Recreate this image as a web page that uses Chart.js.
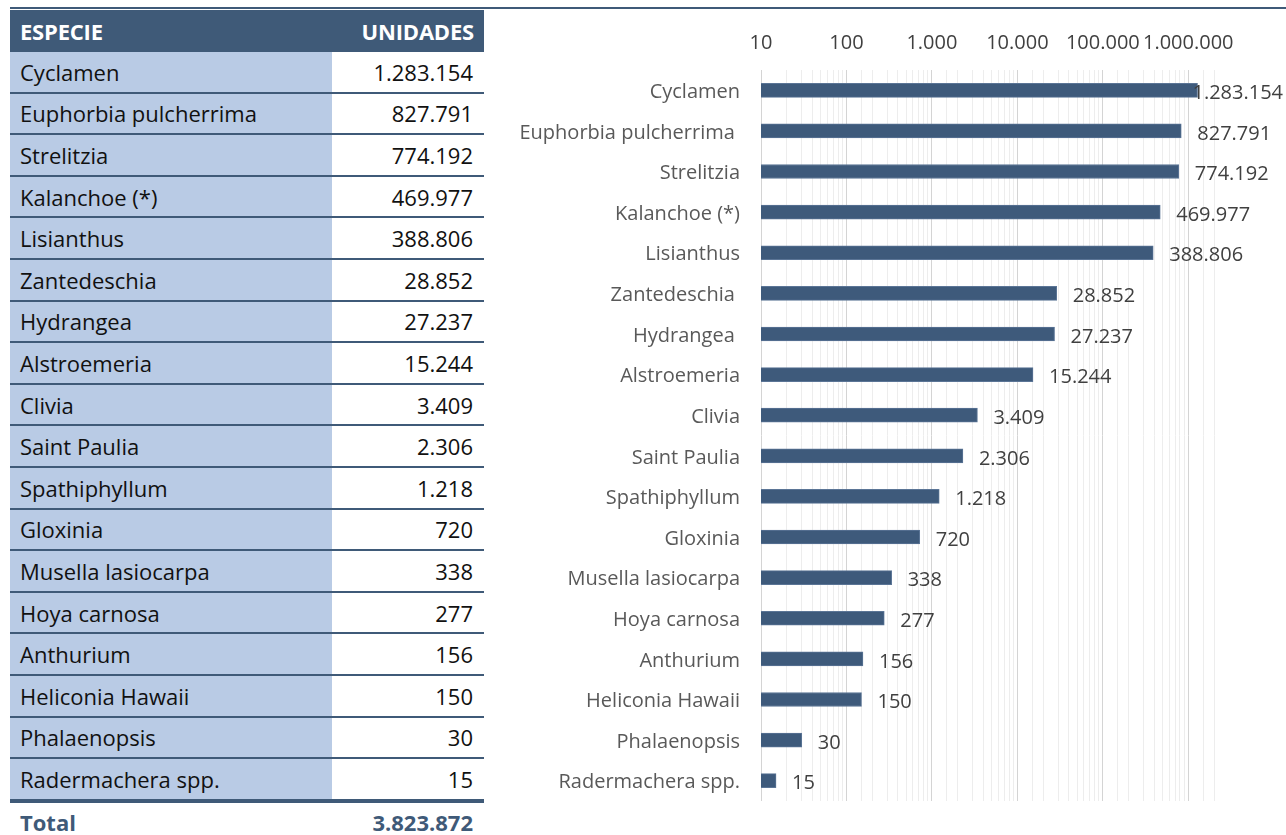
<!DOCTYPE html>
<html>
<head>
<meta charset="utf-8">
<script src="https://cdn.jsdelivr.net/npm/chart.js@4.4.1/dist/chart.umd.min.js"></script>
<style>
  body { margin: 0; background: #fff; font-family: "Open Sans", sans-serif; }
  #topline { position: absolute; left: 10px; top: 7px; width: 1276px; height: 2px; background: #3f5a78; }
  #tbl { position: absolute; left: 10px; top: 10px; width: 474px; border-collapse: collapse; }
  #tbl th { background: #3f5a78; color: #fff; font-size: 22px; font-weight: bold; height: 42px; padding: 0 10px; text-align: left; letter-spacing: -0.2px; }
  #tbl th.num { text-align: right; }
  #tbl td { height: 39.6px; font-size: 22px; color: #111; padding: 0 10px; border-bottom: 2px solid #3f5a78; white-space: nowrap; }
  #tbl td.name { background: #b9cbe5; width: 302px; }
  #tbl td.num { text-align: right; padding-right: 11px; }
  #tbl tr.last td { border-bottom: 4px solid #3f5a78; }
  #tbl tr.total td { background: #fff; font-weight: bold; color: #3f5a78; border-bottom: none; height: 30px; padding-top: 4px; font-size: 22px; }
  #wrap { position: absolute; left: 490px; top: 10px; width: 796px; height: 825px; }
</style>
</head>
<body>
<div id="topline"></div>
<table id="tbl"></table>
<div id="wrap"><canvas id="chart"></canvas></div>
<script>
// Datos (algunas etiquetas llevan espacio final, como en el original)
const species = [
  "Cyclamen", "Euphorbia pulcherrima ", "Strelitzia", "Kalanchoe (*)", "Lisianthus",
  "Zantedeschia ", "Hydrangea ", "Alstroemeria", "Clivia", "Saint Paulia",
  "Spathiphyllum", "Gloxinia", "Musella lasiocarpa", "Hoya carnosa", "Anthurium",
  "Heliconia Hawaii", "Phalaenopsis", "Radermachera spp."
];
const units = [
  1283154, 827791, 774192, 469977, 388806,
  28852, 27237, 15244, 3409, 2306,
  1218, 720, 338, 277, 156,
  150, 30, 15
];
const axisTicks = [10, 100, 1000, 10000, 100000, 1000000];

const FONT = "'Open Sans', sans-serif";

function fmt(n) {
  return String(n).replace(/\B(?=(\d{3})+(?!\d))/g, ".");
}

// Tabla
const tbl = document.getElementById("tbl");
let html = '<tr><th>ESPECIE</th><th class="num">UNIDADES</th></tr>';
species.forEach((s, i) => {
  const cls = i === species.length - 1 ? ' class="last"' : "";
  html += `<tr${cls}><td class="name">${s.trim()}</td><td class="num">${fmt(units[i])}</td></tr>`;
});
const total = units.reduce((a, b) => a + b, 0);
html += `<tr class="total"><td>Total</td><td class="num">${fmt(total)}</td></tr>`;
tbl.innerHTML = html;

// Etiquetas de valor
const valueLabels = {
  id: "valueLabels",
  afterDatasetsDraw(chart) {
    const ctx = chart.ctx;
    const meta = chart.getDatasetMeta(0);
    ctx.save();
    ctx.font = "20px " + FONT;
    ctx.fillStyle = "#404040";
    ctx.textBaseline = "middle";
    meta.data.forEach((bar, i) => {
      const txt = fmt(units[i]);
      const w = ctx.measureText(txt).width;
      let x = bar.x + 16;
      if (x + w > chart.width - 3) x = chart.width - 3 - w;
      ctx.fillText(txt, x, bar.y + 3);
    });
    ctx.restore();
  }
};

new Chart(document.getElementById("chart"), {
  type: "bar",
  data: {
    labels: species,
    datasets: [{
      data: units,
      backgroundColor: "#3e5a7b",
      borderColor: "#5b7596",
      borderWidth: 1,
      barThickness: 14
    }]
  },
  options: {
    indexAxis: "y",
    responsive: true,
    maintainAspectRatio: false,
    animation: false,
    layout: { padding: { right: 72, bottom: 34 } },
    plugins: { legend: { display: false }, tooltip: { enabled: false } },
    scales: {
      x: {
        type: "logarithmic",
        position: "top",
        min: 10,
        max: 2000000,
        afterFit: (s) => { s.height = 60; },
        border: { display: false },
        grid: {
          drawTicks: false,
          color: (c) => axisTicks.includes(c.tick && c.tick.value) ? "#d4d4d4" : "#ededed"
        },
        ticks: {
          autoSkip: false,
          maxRotation: 0,
          padding: 15,
          color: "#404040",
          font: { size: 20, family: FONT },
          callback: (v) => axisTicks.includes(v) ? fmt(v) : ""
        }
      },
      y: {
        afterFit: (s) => { s.width = 271; },
        border: { display: false },
        grid: { display: false, drawTicks: false },
        ticks: {
          padding: 21,
          labelOffset: 2,
          color: "#595959",
          font: { size: 20, family: FONT }
        }
      }
    }
  },
  plugins: [valueLabels]
});
</script>
</body>
</html>
